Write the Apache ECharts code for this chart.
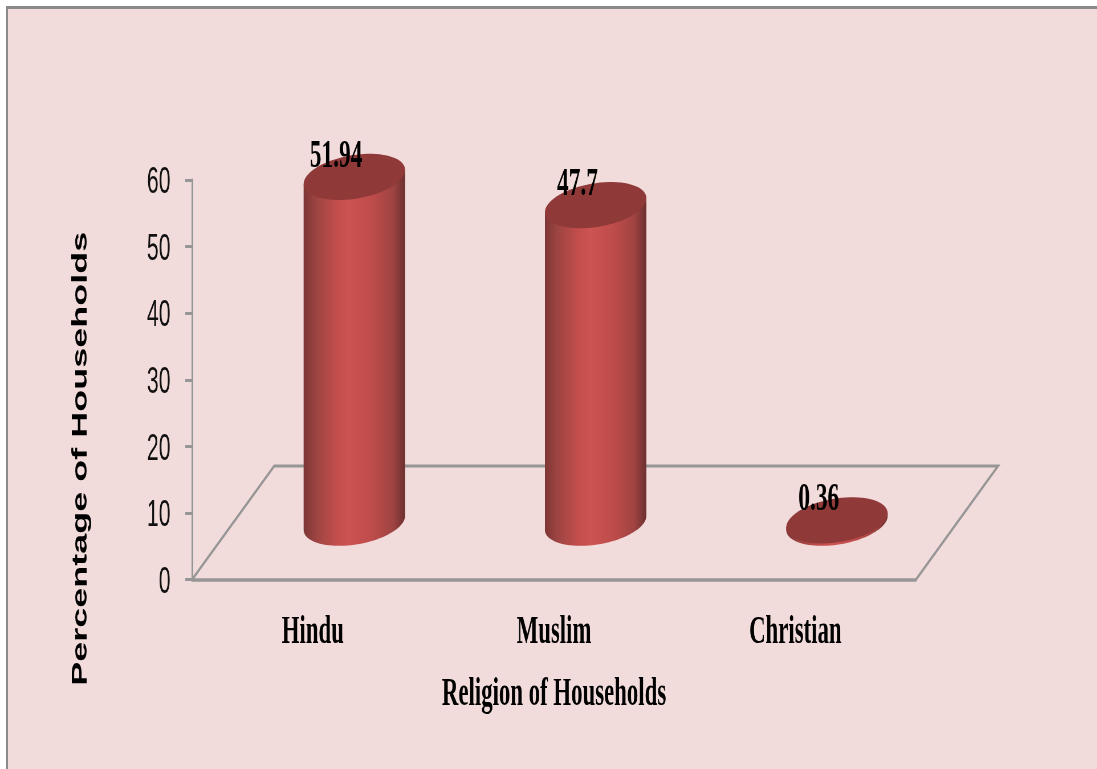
<!DOCTYPE html>
<html>
<head>
<meta charset="utf-8">
<script src="https://cdn.jsdelivr.net/npm/echarts@6/dist/echarts.min.js"></script>
<style>
html,body{margin:0;padding:0;background:#fff;width:1097px;height:769px;overflow:hidden}
#panel{position:absolute;left:6px;top:6px;right:0;bottom:0;background:#f2dcdb;border-top:3px solid #8a8a8a;border-left:2px solid #8a8a8a;box-sizing:border-box}
#chart{position:absolute;left:0;top:0;width:1925px;height:769px;transform:scaleX(0.57);transform-origin:0 0}
</style>
</head>
<body>
<div id="panel"></div>
<div id="chart"></div>
<script>
const categories = ['Hindu', 'Muslim', 'Christian'];
const values = [51.94, 47.7, 0.36];
const valueLabels = ['51.94', '47.7', '0.36'];
const yMin = 0, yMax = 60, yStep = 10;
const xTitle = 'Religion of Households';
const yTitle = 'Percentage of Households';

const DEPTH_X = 144, DEPTH_Y = 113.5;
const RX = 89, RY = 22, TILT = -7;
const GREY = '#969696';

function ellipsePts(cx, cy, from, to, n) {
  const pts = [];
  for (let i = 0; i <= n; i++) {
    const t = from + (to - from) * i / n;
    pts.push([cx + RX * Math.cos(t), cy + TILT * Math.cos(t) + RY * Math.sin(t)]);
  }
  return pts;
}

function renderFloor(params, api) {
  const c = params.coordSys;
  const bx = c.x, by = c.y + c.height, r = c.x + c.width;
  return {
    type: 'polyline',
    shape: { points: [[bx, by], [bx + DEPTH_X, by - DEPTH_Y], [r + DEPTH_X, by - DEPTH_Y], [r, by]] },
    style: { stroke: GREY, lineWidth: 3, fill: null }
  };
}

function renderCylinder(params, api) {
  const idx = api.value(0);
  const top = api.coord([idx, api.value(1)]);
  const base = api.coord([idx, 0]);
  const cx = top[0] + DEPTH_X / 2 + 1;
  const cyTop = top[1] - DEPTH_Y / 2;
  const cyBase = base[1] - DEPTH_Y / 2;
  const body = ellipsePts(cx, cyBase, 0, Math.PI, 48);
  body.unshift([cx + RX, cyTop + TILT]);
  body.push([cx - RX, cyTop - TILT]);
  return {
    type: 'group',
    children: [
      {
        type: 'polygon',
        shape: { points: body },
        style: {
          fill: new echarts.graphic.LinearGradient(0, 0, 1, 0, [
            { offset: 0, color: '#7d3634' },
            { offset: 0.12, color: '#9c4442' },
            { offset: 0.32, color: '#c24e4c' },
            { offset: 0.45, color: '#cc5452' },
            { offset: 0.68, color: '#bd4c4a' },
            { offset: 0.88, color: '#a04442' },
            { offset: 1, color: '#6c302f' }
          ])
        }
      },
      {
        type: 'polygon',
        shape: { points: ellipsePts(cx, cyTop, 0, 2 * Math.PI, 72) },
        style: { fill: '#8f3a39' }
      },
      {
        type: 'text',
        style: {
          text: valueLabels[idx],
          x: cx - 32, y: cyTop - 21,
          align: 'center', verticalAlign: 'middle',
          font: 'bold 41px "Liberation Serif"',
          fill: '#000'
        }
      }
    ]
  };
}

const chart = echarts.init(document.getElementById('chart'), null, { renderer: 'canvas', width: 1925, height: 769 });
chart.setOption({
  animation: false,
  backgroundColor: 'transparent',
  grid: { left: 337, right: 318, top: 180, bottom: 189.5, containLabel: false },
  xAxis: {
    type: 'category',
    data: categories,
    name: xTitle,
    nameLocation: 'middle',
    nameGap: 95,
    nameTextStyle: { fontFamily: 'Liberation Serif', fontWeight: 'bold', fontSize: 40, color: '#000' },
    axisLine: { lineStyle: { color: GREY, width: 3.5 } },
    axisTick: { show: false },
    axisLabel: { fontFamily: 'Liberation Serif', fontWeight: 'bold', fontSize: 40, color: '#000', margin: 33 }
  },
  yAxis: {
    type: 'value',
    min: yMin, max: yMax, interval: yStep,
    name: yTitle,
    nameLocation: 'middle',
    nameGap: 177,
    nameRotate: 90,
    nameTextStyle: { fontFamily: 'Liberation Sans', fontWeight: 'bold', fontSize: 36, color: '#000', padding: [0, 158, 0, 0] },
    splitLine: { show: false },
    axisLine: { show: true, lineStyle: { color: GREY, width: 3 } },
    axisTick: { show: true, length: 12, lineStyle: { color: GREY, width: 3 } },
    axisLabel: { fontFamily: 'Liberation Sans', fontSize: 37, color: '#111', margin: 38, verticalAlign: 'top', lineHeight: 6 }
  },
  series: [
    { type: 'custom', z: 1, silent: true, clip: false, renderItem: renderFloor, data: [[0, 0]] },
    { type: 'custom', z: 2, silent: true, clip: false, renderItem: renderCylinder,
      encode: { x: 0, y: 1 },
      data: values.map((v, i) => [i, v]) }
  ]
});
</script>
</body>
</html>
